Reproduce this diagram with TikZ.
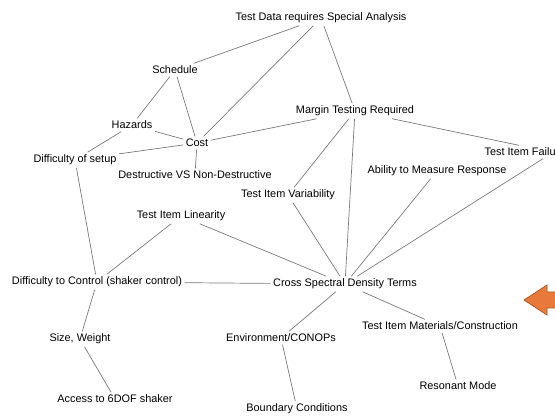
\documentclass[tikz,border=0pt]{standalone}
\usepackage{fontspec}
\setmainfont{Liberation Sans}
\usetikzlibrary{calc}
\definecolor{linkgray}{HTML}{7A7A7A}
\definecolor{arroworange}{HTML}{E8793A}
\definecolor{arrowedge}{HTML}{AE5A21}

\begin{document}
\begin{tikzpicture}[x=1pt,y=1pt,
  lbl/.style={inner sep=2.5pt,font=\fontsize{10.9}{13}\selectfont},
  link/.style={linkgray,line width=0.7pt}]
\useasboundingbox (0,0) rectangle (555,418);
% topics
\node[lbl] (tdsa) at (321,400) {Test Data requires Special Analysis};
\node[lbl] (sched) at (175,348) {Schedule};
\node[lbl] (haz) at (132,293) {Hazards};
\node[lbl] (cost) at (197,275) {Cost};
\node[lbl] (setup) at (75,258) {Difficulty of setup};
\node[lbl] (destr) at (195,243) {Destructive VS Non-Destructive};
\node[lbl] (margin) at (355,307) {Margin Testing Required};
\node[lbl,anchor=west] (fail) at (482,266) {Test Item Failure};
\node[lbl] (ability) at (437,247) {Ability to Measure Response};
\node[lbl] (var) at (288,223) {Test Item Variability};
\node[lbl] (lin) at (181,202) {Test Item Linearity};
\node[lbl] (ctrl) at (97,136) {Difficulty to Control (shaker control)};
\node[lbl] (csd) at (345,134) {Cross Spectral Density Terms};
\node[lbl] (size) at (80,79) {Size, Weight};
\node[lbl] (env) at (281,80) {Environment/CONOPs};
\node[lbl] (mat) at (440,92) {Test Item Materials/Construction};
\node[lbl] (reson) at (458,32) {Resonant Mode};
\node[lbl] (access) at (115,19) {Access to 6DOF shaker};
\node[lbl] (bound) at (297,9) {Boundary Conditions};
% links
\draw[link] (tdsa) -- (sched);
\draw[link] (tdsa) -- (cost);
\draw[link] (tdsa) -- (margin);
\draw[link] (sched) -- (haz);
\draw[link] (sched) -- (cost);
\draw[link] (haz) -- (cost);
\draw[link] (haz) -- (setup);
\draw[link] (cost) -- (setup);
\draw[link] (cost) -- (destr);
\draw[link] (cost) -- (margin);
\draw[link] (margin) -- ($(fail.north)+(-6,0)$);
\draw[link] (margin) -- (var);
\draw[link] (margin) -- (csd);
\draw[link] ($(fail.south)+(18,0)$) -- (csd);
\draw[link] (ability) -- (csd);
\draw[link] (var) -- (csd);
\draw[link] (lin) -- (csd);
\draw[link] (lin) -- (ctrl);
\draw[link] (setup) -- (ctrl);
\draw[link] (ctrl) -- (csd);
\draw[link] (ctrl) -- (size);
\draw[link] (size) -- (access);
\draw[link] (csd) -- (env);
\draw[link] (csd) -- (mat);
\draw[link] (env) -- (bound);
\draw[link] (mat) -- (reson);
% block arrow
\draw[arrowedge,fill=arroworange,line width=0.8pt]
  (524,118) -- (547,133) -- (547,126) -- (560,126) -- (560,110)
  -- (547,110) -- (547,103) -- cycle;
\end{tikzpicture}
\end{document}
